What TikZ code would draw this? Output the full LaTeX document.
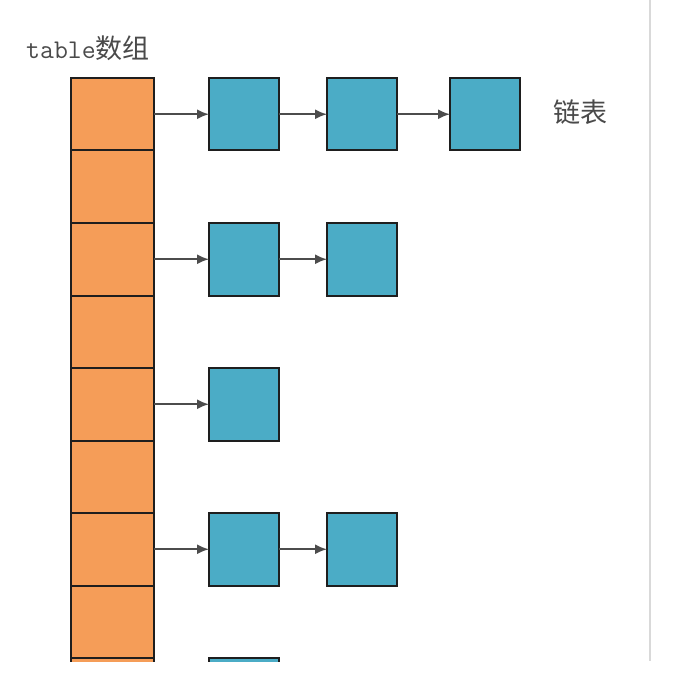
\documentclass[tikz,border=0pt]{standalone}
\usepackage{fontspec}
\newfontfamily\cjk{Noto Sans CJK SC}
\usetikzlibrary{arrows.meta}
\definecolor{cellorange}{HTML}{F59D58}
\definecolor{nodeblue}{HTML}{4BACC6}
\definecolor{txtgray}{HTML}{4A4A4A}
\definecolor{edgedark}{HTML}{1E1E1E}
\tikzset{
  cell/.style={draw=edgedark, line width=2pt, fill=cellorange, minimum width=83pt, minimum height=72.5pt, anchor=north west, inner sep=0pt, outer sep=0pt},
  lnode/.style={draw=edgedark, line width=2pt, fill=nodeblue, minimum width=70pt, minimum height=72.5pt, anchor=north west, inner sep=0pt, outer sep=0pt},
  link/.style={draw=black!70, line width=1.8pt, -{Latex[length=12pt,width=10pt]}},
  lbl/.style={text=txtgray, font=\fontsize{27}{30}\selectfont, inner sep=0pt}
}
\begin{document}
\begin{tikzpicture}[x=1pt,y=-1pt]
\useasboundingbox (0,0) rectangle (672,700);
\fill[white] (0,0) rectangle (672,700);
\draw[black!15, line width=1.5pt] (650,0) -- (650,661);
\node[lbl, anchor=west] (title) at (26,48) {\ttfamily table\cjk 数组};
\node[lbl, anchor=west] (lt) at (553,112) {\cjk 链表};
\begin{scope}
\clip (0,0) rectangle (672,661);
\foreach \i in {0,...,8} {
  \node[cell] (t\i) at (71,{78+72.5*\i}) {};
}
% row 0
\node[lnode] (a1) at (209,78) {};
\node[lnode] (a2) at (327,78) {};
\node[lnode] (a3) at (450,78) {};
\draw[link] (t0.east) -- (a1.west);
\draw[link] (a1.east) -- (a2.west);
\draw[link] (a2.east) -- (a3.west);
% row 2
\node[lnode] (b1) at (209,223) {};
\node[lnode] (b2) at (327,223) {};
\draw[link] (t2.east) -- (b1.west);
\draw[link] (b1.east) -- (b2.west);
% row 4
\node[lnode] (c1) at (209,368) {};
\draw[link] (t4.east) -- (c1.west);
% row 6
\node[lnode] (d1) at (209,513) {};
\node[lnode] (d2) at (327,513) {};
\draw[link] (t6.east) -- (d1.west);
\draw[link] (d1.east) -- (d2.west);
% row 8
\node[lnode] (e1) at (209,658) {};
\end{scope}
\end{tikzpicture}
\end{document}
